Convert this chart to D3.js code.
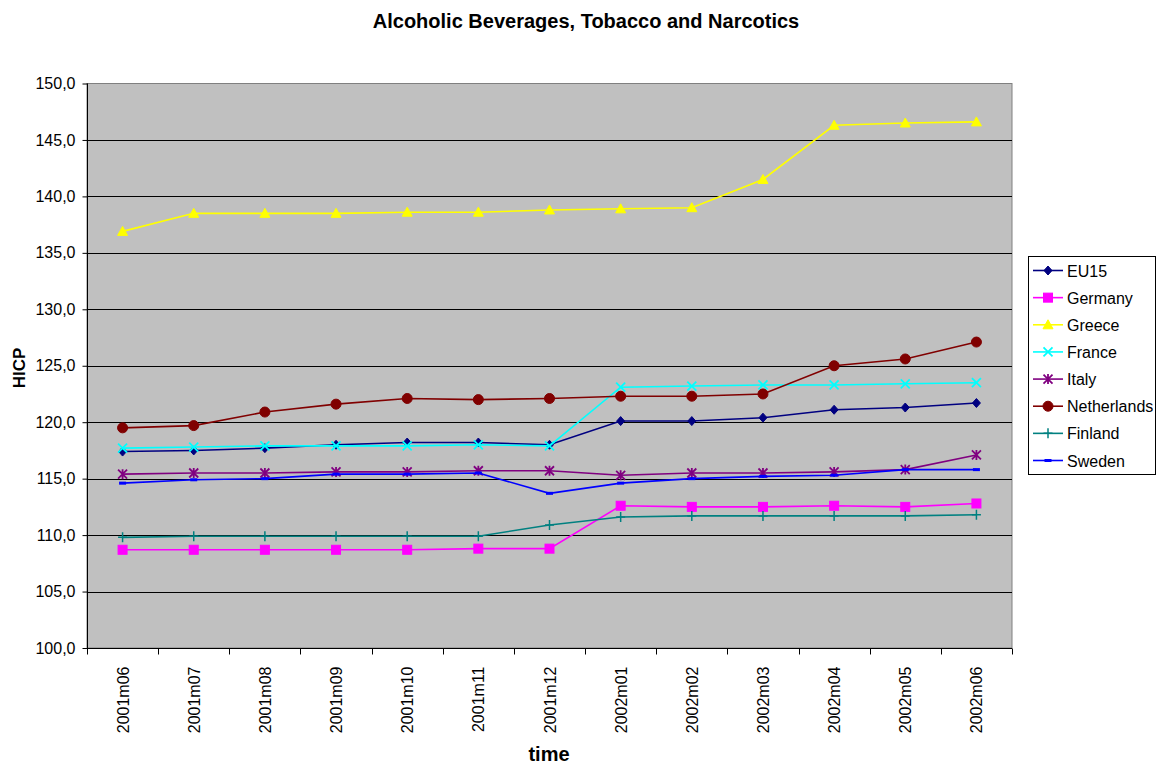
<!DOCTYPE html>
<html>
<head>
<meta charset="utf-8">
<script src="https://cdn.jsdelivr.net/npm/d3@7"></script>
<style>
  html, body { margin: 0; padding: 0; background: #fff; }
  svg { display: block; font-family: Arial, "Liberation Sans", sans-serif; }
</style>
</head>
<body>
<svg id="chart" width="1161" height="764"></svg>
<script>
// Monthly HICP index values, June 2001 – June 2002
const months = ["2001m06","2001m07","2001m08","2001m09","2001m10","2001m11","2001m12",
                "2002m01","2002m02","2002m03","2002m04","2002m05","2002m06"];

const eu15        = [117.4,117.5,117.7,118.0,118.2,118.2,118.0,120.1,120.1,120.4,121.1,121.3,121.7];
const germany     = [108.7,108.7,108.7,108.7,108.7,108.8,108.8,112.6,112.5,112.5,112.6,112.5,112.8];
const greece      = [136.9,138.5,138.5,138.5,138.6,138.6,138.8,138.9,139.0,141.5,146.3,146.5,146.6];
const france      = [117.7,117.8,117.9,117.9,117.9,118.0,117.9,123.1,123.2,123.3,123.3,123.4,123.5];
const italy       = [115.4,115.5,115.5,115.6,115.6,115.7,115.7,115.3,115.5,115.5,115.6,115.8,117.1];
const netherlands = [119.5,119.7,120.9,121.6,122.1,122.0,122.1,122.3,122.3,122.5,125.0,125.6,127.1];
const finland     = [109.8,109.9,109.9,109.9,109.9,109.9,110.9,111.6,111.7,111.7,111.7,111.7,111.8];
const sweden      = [114.6,114.9,115.0,115.4,115.4,115.5,113.7,114.6,115.0,115.2,115.3,115.8,115.8];

const yTicks = [100,105,110,115,120,125,130,135,140,145,150];

const series = [
  { name: "EU15",        values: eu15,        color: "#000080", marker: "diamond" },
  { name: "Germany",     values: germany,     color: "#FF00FF", marker: "square" },
  { name: "Greece",      values: greece,      color: "#FFFF00", marker: "triangle" },
  { name: "France",      values: france,      color: "#00FFFF", marker: "x" },
  { name: "Italy",       values: italy,       color: "#800080", marker: "star" },
  { name: "Netherlands", values: netherlands, color: "#800000", marker: "circle" },
  { name: "Finland",     values: finland,     color: "#008080", marker: "plus" },
  { name: "Sweden",      values: sweden,      color: "#0000FF", marker: "dash" }
];

const svg = d3.select("#chart");
const plot = { left: 87, top: 83.5, right: 1012, bottom: 648 };

const x = d3.scaleBand().domain(months).range([plot.left, plot.right]);
const y = d3.scaleLinear().domain([100, 150]).range([plot.bottom, plot.top]);
const cx = m => x(m) + x.bandwidth() / 2;

// Plot background
svg.append("rect")
  .attr("x", plot.left).attr("y", plot.top)
  .attr("width", plot.right - plot.left).attr("height", plot.bottom - plot.top)
  .attr("fill", "#C0C0C0").attr("stroke", "#808080").attr("stroke-width", 1);

// Horizontal gridlines
svg.append("g").selectAll("line")
  .data(yTicks.filter(t => t > 100 && t < 150))
  .join("line")
  .attr("x1", plot.left).attr("x2", plot.right)
  .attr("y1", d => Math.round(y(d)) + 0.5).attr("y2", d => Math.round(y(d)) + 0.5)
  .attr("stroke", "#000").attr("stroke-width", 1);

// Y axis
const yAxis = svg.append("g")
  .attr("transform", `translate(${plot.left + 0.5},0)`)
  .call(d3.axisLeft(y).tickValues(yTicks).tickSize(5).tickPadding(7)
    .tickFormat(d => d3.format(".1f")(d).replace(".", ",")));
yAxis.select(".domain").attr("stroke", "#000").attr("d", `M0,${plot.top}V${plot.bottom}`);
yAxis.selectAll(".tick line").attr("stroke", "#000");
yAxis.selectAll(".tick text").attr("font-size", 16).attr("fill", "#000")
  .attr("font-family", "Arial, 'Liberation Sans', sans-serif");

// X axis: tick marks at category boundaries
const xg = svg.append("g").attr("transform", `translate(0,${Math.round(plot.bottom) + 0.5})`);
xg.append("line").attr("x1", plot.left).attr("x2", plot.right).attr("stroke", "#000");
xg.selectAll("line.tk")
  .data(months.map(m => x(m)).concat([plot.right]))
  .join("line").attr("class", "tk")
  .attr("x1", d => Math.round(d) + 0.5).attr("x2", d => Math.round(d) + 0.5)
  .attr("y1", 0).attr("y2", 6).attr("stroke", "#000");
xg.selectAll("text")
  .data(months)
  .join("text")
  .attr("transform", d => `translate(${cx(d) + 6},${18}) rotate(-90)`)
  .attr("text-anchor", "end")
  .attr("font-size", 16)
  .text(d => d);

// Chart title and axis titles
svg.append("text")
  .attr("x", 586).attr("y", 28)
  .attr("text-anchor", "middle").attr("font-size", 20).attr("font-weight", "bold")
  .text("Alcoholic Beverages, Tobacco and Narcotics");
svg.append("text")
  .attr("transform", `translate(25,368) rotate(-90)`)
  .attr("text-anchor", "middle").attr("font-size", 17).attr("font-weight", "bold")
  .text("HICP");
svg.append("text")
  .attr("x", 549).attr("y", 761)
  .attr("text-anchor", "middle").attr("font-size", 20).attr("font-weight", "bold")
  .text("time");

// Marker drawing
function drawMarker(g, type, color) {
  switch (type) {
    case "diamond":
      g.append("path").attr("d", "M0,-4.5L4,0L0,4.5L-4,0Z").attr("fill", color).attr("stroke", color);
      break;
    case "square":
      g.append("rect").attr("x", -4.5).attr("y", -4.5).attr("width", 9).attr("height", 9)
        .attr("fill", color).attr("stroke", color);
      break;
    case "triangle":
      g.append("path").attr("d", "M0,-5L5,4L-5,4Z").attr("fill", color).attr("stroke", color);
      break;
    case "x":
      g.append("path").attr("d", "M-4.5,-4.5L4.5,4.5M-4.5,4.5L4.5,-4.5")
        .attr("stroke", color).attr("stroke-width", 1.8).attr("fill", "none");
      break;
    case "star":
      g.append("path").attr("d", "M-4.5,-4.5L4.5,4.5M-4.5,4.5L4.5,-4.5M0,-5L0,5")
        .attr("stroke", color).attr("stroke-width", 1.8).attr("fill", "none");
      break;
    case "circle":
      g.append("circle").attr("r", 5).attr("fill", color).attr("stroke", color);
      break;
    case "plus":
      g.append("path").attr("d", "M-4.5,0L4.5,0M0,-5L0,5")
        .attr("stroke", color).attr("stroke-width", 1.5).attr("fill", "none");
      break;
    case "dash":
      g.append("rect").attr("x", -3.5).attr("y", -1.5).attr("width", 7).attr("height", 3)
        .attr("fill", color);
      break;
  }
}

// Series lines and markers
const line = d3.line().x((d, i) => cx(months[i])).y(d => y(d));
series.forEach(s => {
  const g = svg.append("g");
  g.append("path").datum(s.values)
    .attr("d", line).attr("fill", "none")
    .attr("stroke", s.color).attr("stroke-width", 1.6);
  s.values.forEach((v, i) => {
    drawMarker(g.append("g").attr("transform", `translate(${cx(months[i])},${y(v)})`), s.marker, s.color);
  });
});

// Legend
const legend = svg.append("g");
legend.append("rect")
  .attr("x", 1028.5).attr("y", 256.5).attr("width", 127).attr("height", 218)
  .attr("fill", "#fff").attr("stroke", "#000").attr("stroke-width", 1);
const ly = d3.scalePoint().domain(series.map(s => s.name)).range([270.5, 460.5]);
series.forEach(s => {
  const row = legend.append("g").attr("transform", `translate(0,${ly(s.name)})`);
  row.append("line").attr("x1", 1033).attr("x2", 1063).attr("stroke", s.color).attr("stroke-width", 1.6);
  drawMarker(row.append("g").attr("transform", "translate(1048,0)"), s.marker, s.color);
  row.append("text").attr("x", 1067).attr("y", 6).attr("font-size", 16).text(s.name);
});
</script>
</body>
</html>
